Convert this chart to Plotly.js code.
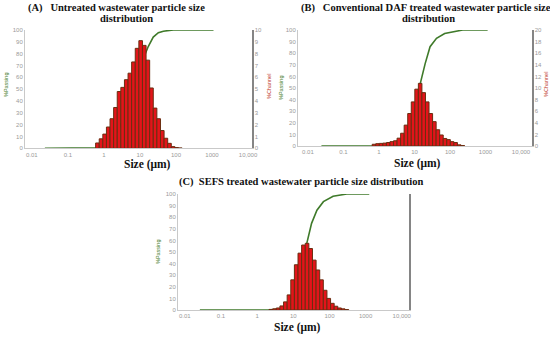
<!DOCTYPE html>
<html><head><meta charset="utf-8">
<script src="https://cdn.plot.ly/plotly-3.0.1.min.js"></script>
<style>html,body{margin:0;padding:0;background:#fff}#chart{width:550px;height:337px}</style>
</head><body><div id="chart"></div>
<script>
// ---- Data ----
// Tick labels of the size axis
const sizeTickVals = [0.01, 0.1, 1, 10, 100, 1000, 10000];
const sizeTickText = ["0.01", "0.1", "1", "10", "100", "1000", "10,000"];

// (A) Untreated wastewater: channel bins (µm) and %Channel
const sizeA = [0.661,0.832,1.047,1.318,1.660,2.089,2.630,3.311,4.169,5.248,6.607,8.318,10.47,13.18,16.60,20.89,26.30,33.11,41.69,52.48,66.07,83.18,104.7,131.8];
const chanA = [0.45,0.8,1.2,1.8,2.5,3.45,4.8,5.15,5.8,6.35,7.3,8.45,9.1,8.7,7.45,5.1,3.4,2.5,1.5,0.85,0.42,0.14,0.06,0.03];
// (A) %Passing curve
const passSizeA = [0.023,0.5,0.7,1,1.5,2,3,4,5,6.5,8,10,12.9,17,23.4,32.4,44.7,85,1100];
const passA     = [0,0,0.5,2,6,10,20,28,36,46,56,68,77,86,94,97.7,99,100,100];

// (B) Conventional DAF treated
const sizeB = [0.7244,0.912,1.148,1.445,1.820,2.291,2.884,3.631,4.571,5.754,7.244,9.120,11.48,14.45,18.20,22.91,28.84,36.31,45.71,57.54,72.44,91.20,114.8,144.5,182.0,229.1];
const chanB = [0.3,0.4,0.45,0.5,0.6,0.75,0.9,1.35,2.2,3.6,5.6,7.6,9.8,10.8,9.2,7.6,5.6,4.2,2.8,1.9,1.3,1.1,0.75,0.6,0.2,0.08];
const passSizeB = [0.024,0.7,2,4,6,8,10,12,14.45,17,20,27.5,41.7,70.8,135,229,1150];
const passB     = [0,0,2,5,10,18,27,38,53.4,63,71,85.6,92.8,97,99,100,100];

// (C) SEFS treated
const sizeC = [2.399,3.020,3.802,4.786,6.026,7.586,9.550,12.02,15.14,19.05,23.99,30.20,38.02,47.86,60.26,75.86,95.50,120.2,151.4,190.5,239.9,302.0];
const chanC = [0.1,0.2,0.35,0.7,1.4,2.6,5.2,7.8,9.8,11.2,11.5,10.6,8.6,6.9,5.2,3.4,2.0,1.15,0.65,0.35,0.2,0.08];
const passSizeC = [0.026,2,5,8,10,12,15,19,23.4,32,45,68,126,300,1260];
const passC     = [0,0,1,4,8,16,27,42,57,74.7,86,93.4,98,100,100];

// ---- Styling ----
const GREEN = '#3f7a2a', RED = '#e3141a', BROWN = '#6a2e10';
const TICKFONT = {family:'Liberation Sans, Arial', size:6, color:'#9a9a9a'};
const SERIF = 'Liberation Serif, Times New Roman, serif';

function binEdges(c){
  const offset=[], width=[];
  for(let i=0;i<c.length;i++){
    const prev = i>0 ? c[i-1] : c[i]*c[i]/c[i+1];
    const next = i<c.length-1 ? c[i+1] : c[i]*c[i]/c[i-1];
    const lo = Math.sqrt(prev*c[i]), hi = Math.sqrt(c[i]*next);
    offset.push(lo-c[i]); width.push(hi-lo);
  }
  return {offset, width};
}
function panel(ps, pv, sz, ch, xa, ya, ya2){
  const e = binEdges(sz);
  return [
    {type:'scatter', mode:'lines', x:ps, y:pv, xaxis:xa, yaxis:ya,
     line:{color:GREEN, width:1.6}, hoverinfo:'skip'},
    {type:'bar', x:sz, y:ch, xaxis:xa, yaxis:ya2, offset:e.offset, width:e.width,
     marker:{color:RED, line:{color:BROWN, width:1}}, hoverinfo:'skip'}
  ];
}
const data = [].concat(
  panel(passSizeA, passA, sizeA, chanA, 'x', 'y', 'y2'),
  panel(passSizeB, passB, sizeB, chanB, 'x2', 'y3', 'y4'),
  panel(passSizeC, passC, sizeC, chanC, 'x3', 'y5', 'y6')
);

const W=550, H=337;
const px = v => v/W, py = v => 1 - v/H;
function xax(d0,d1,r0,r1,anchor){
  return {type:'log', domain:[px(d0),px(d1)], range:[r0,r1], anchor:anchor,
    tickmode:'array', tickvals:sizeTickVals, ticktext:sizeTickText, tickfont:TICKFONT,
    showline:true, linecolor:'#c9c9c9', linewidth:1, ticks:'', showgrid:false, zeroline:false};
}
function yleft(t,b,anchor){
  return {domain:[py(b),py(t)], range:[0,100], dtick:10, anchor:anchor, tickfont:TICKFONT,
    showline:true, linecolor:'#c9c9c9', linewidth:1, ticks:'', showgrid:false, zeroline:false};
}
function yright(over,anchor,max,dt,show){
  return {overlaying:over, side:'right', anchor:anchor, range:[0,max], dtick:dt, tickfont:TICKFONT,
    showticklabels:show, showline:true, linecolor:'#858585', linewidth:1.5, ticks:'', showgrid:false, zeroline:false};
}

function ann(text,x,y,opts){
  return Object.assign({text:text, x:px(x), y:py(y), xref:'paper', yref:'paper',
    showarrow:false, xanchor:'center', yanchor:'middle'}, opts);
}
const titleFont = {family:SERIF, size:10.5, color:'#111'};
const xtFont = {family:SERIF, size:11.5, color:'#111'};
const passFont = {family:'Liberation Sans, Arial', size:5.5, color:GREEN};
const chanFont = {family:'Liberation Sans, Arial', size:5.5, color:'#c0392b'};

const annotations = [
  ann('<b>(A)&nbsp;&nbsp;&nbsp;Untreated wastewater particle size</b>', 26, 7.5, {xanchor:'left', font:titleFont}),
  ann('<b>distribution</b>', 126, 18.5, {font:titleFont}),
  ann('<b>(B)&nbsp;&nbsp;&nbsp;Conventional DAF treated wastewater particle size</b>', 299, 7.5, {xanchor:'left', font:titleFont}),
  ann('<b>distribution</b>', 428, 19, {font:titleFont}),
  ann('<b>(C)&nbsp;&nbsp;SEFS treated wastewater particle size distribution</b>', 177, 182, {xanchor:'left', font:titleFont}),
  ann('<b>Size (μm)</b>', 147, 165, {font:xtFont}),
  ann('<b>Size (μm)</b>', 417, 164, {font:xtFont}),
  ann('<b>Size (μm)</b>', 297, 327, {font:xtFont}),
  ann('%Passing', 6, 85, {textangle:-90, font:passFont}),
  ann('%Channel', 269, 87, {textangle:-90, font:chanFont}),
  ann('%Passing', 281, 88, {textangle:-90, font:passFont}),
  ann('%Channel', 546, 85, {textangle:-90, font:chanFont}),
  ann('%Passing', 158, 252, {textangle:-90, font:passFont})
];

const layout = {
  width:W, height:H, margin:{l:0,r:0,t:0,b:0},
  paper_bgcolor:'#fff', plot_bgcolor:'rgba(0,0,0,0)', showlegend:false, barmode:'overlay',
  xaxis:  xax(25, 252, -2.19, 4.11, 'y'),
  yaxis:  yleft(30, 148.3, 'x'),
  yaxis2: yright('y', 'x', 10, 1, true),
  xaxis2: xax(298, 532, -2.28, 4.31, 'y3'),
  yaxis3: yleft(30, 146, 'x2'),
  yaxis4: yright('y3', 'x2', 20, 2, true),
  xaxis3: xax(178, 409, -2.19, 4.2, 'y5'),
  yaxis5: yleft(194, 310, 'x3'),
  yaxis6: yright('y5', 'x3', 20, 2, false),
  annotations: annotations
};
Plotly.newPlot('chart', data, layout, {staticPlot:true, displayModeBar:false});
</script>
</body></html>
